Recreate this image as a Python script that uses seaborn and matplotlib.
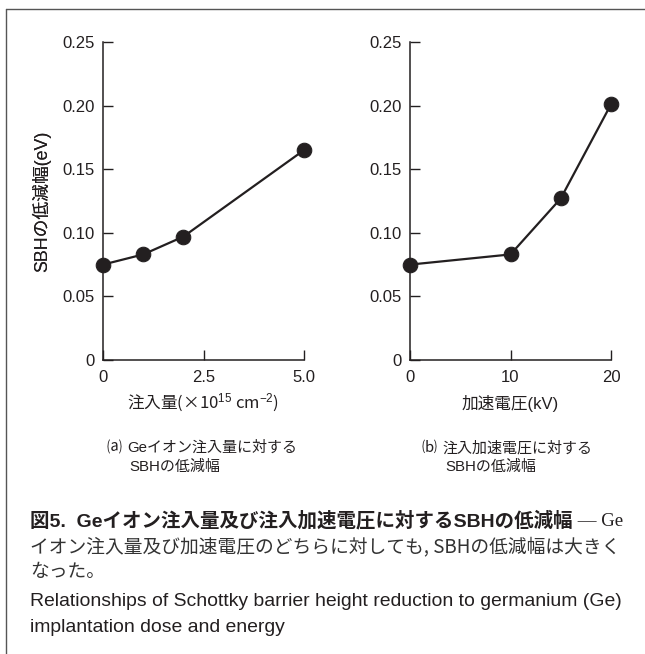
import matplotlib
matplotlib.use("Agg")
import matplotlib.pyplot as plt
import seaborn as sns
import pandas as pd
from matplotlib.lines import Line2D

# ---- data ----
dose = [0, 1, 2, 5]
dose_sbh = [0.075, 0.083, 0.097, 0.165]
energy = [0, 10, 15, 20]
energy_sbh = [0.075, 0.083, 0.127, 0.201]
yticks = [0, 0.05, 0.10, 0.15, 0.20, 0.25]
ytick_labels = ["0", "0.05", "0.10", "0.15", "0.20", "0.25"]
xticks_a = [0, 2.5, 5.0]
xtick_labels_a = ["0", "2.5", "5.0"]
xticks_b = [0, 10, 20]
xtick_labels_b = ["0", "10", "20"]
ylabel = "SBHの低減幅(eV)"
xlabel_a = "注入量(×10$^{15}$ cm$^{-2}$)"
xlabel_b = "加速電圧(kV)"
sub_a = ["Geイオン注入量に対する", "SBHの低減幅"]
sub_b = ["注入加速電圧に対する", "SBHの低減幅"]
caption_bold = "図5.  Geイオン注入量及び注入加速電圧に対するSBHの低減幅"
caption_rest1 = " — Ge"
caption_line2 = "イオン注入量及び加速電圧のどちらに対しても, SBHの低減幅は大きく"
caption_line3 = "なった。"
eng1 = "Relationships of Schottky barrier height reduction to germanium (Ge)"
eng2 = "implantation dose and energy"

sns.set_style("ticks")
FAM = ["Liberation Sans", "Noto Sans CJK JP", "DejaVu Sans"]
plt.rcParams["font.family"] = FAM
plt.rcParams["mathtext.fontset"] = "custom"
plt.rcParams["mathtext.rm"] = "Liberation Sans"
plt.rcParams["mathtext.it"] = "Liberation Sans:italic"
plt.rcParams["mathtext.bf"] = "Liberation Sans:bold"

W, H = 645, 654
fig = plt.figure(figsize=(W / 100, H / 100), dpi=100)
fig.patch.set_facecolor("white")
TXT = "#231f20"


def fx(px):
    return px / W


def fy(py):
    return 1 - py / H


def make_axes(left, right, top, bottom):
    return fig.add_axes([fx(left), fy(bottom), fx(right) - fx(left), fy(top) - fy(bottom)])


def style_axes(ax, x, y, xticks, xlabels, xmax, xlabel, xlabel_family):
    df = pd.DataFrame({"x": x, "y": y})
    sns.lineplot(data=df, x="x", y="y", ax=ax, color=TXT, linewidth=1.6,
                 marker="o", markersize=10.5, markeredgecolor=TXT,
                 markerfacecolor=TXT, clip_on=False, zorder=5)
    ax.set_xlim(0, xmax)
    ax.set_ylim(0, 0.25)
    ax.set_xticks(xticks)
    ax.set_xticklabels(xlabels)
    ax.set_yticks(yticks)
    ax.set_yticklabels(ytick_labels)
    for s in ["top", "right"]:
        ax.spines[s].set_visible(False)
    for s in ["left", "bottom"]:
        ax.spines[s].set_linewidth(1.1)
        ax.spines[s].set_color(TXT)
    ax.tick_params(axis="both", direction="in", length=7, width=1.0,
                   colors=TXT, labelsize=12, labelcolor=TXT)
    ax.tick_params(axis="y", pad=6)
    ax.tick_params(axis="x", pad=7)
    ax.set_xlabel(xlabel, fontsize=12, color=TXT, family=xlabel_family)
    ax.set_ylabel(ylabel, fontsize=12.8, color=TXT)
    ax.xaxis.set_label_coords(0.5, (360 - 403) / 318)
    ax.xaxis.label.set_va("center")
    ax.yaxis.set_label_coords((42 - (ax.get_position().x0 * W)) / 201, 0.5)
    ax.yaxis.label.set_va("center")
    ax.set_facecolor("white")
    ax.grid(False)


ax1 = make_axes(103, 304, 42, 360)
style_axes(ax1, dose, dose_sbh, xticks_a, xtick_labels_a, 5.0, xlabel_a,
           ["Noto Sans CJK JP"])
ax2 = make_axes(410, 611, 42, 360)
style_axes(ax2, energy, energy_sbh, xticks_b, xtick_labels_b, 20, xlabel_b, FAM)

# frame lines
fig.add_artist(Line2D([fx(6), fx(645)], [fy(9), fy(9)], color="#555555", lw=1.0))
fig.add_artist(Line2D([fx(6), fx(6)], [fy(9), fy(654)], color="#555555", lw=1.0))

# sub captions
SUBFS = 10.8
fig.text(fx(107), fy(448), "⒜", fontsize=SUBFS, color=TXT, va="center", ha="left")
fig.text(fx(127), fy(448), sub_a[0], fontsize=SUBFS, color=TXT, va="center", ha="left")
fig.text(fx(129), fy(467), sub_a[1], fontsize=SUBFS, color=TXT, va="center", ha="left")
fig.text(fx(422), fy(448), "⒝", fontsize=SUBFS, color=TXT, va="center", ha="left")
fig.text(fx(442), fy(448), sub_b[0], fontsize=SUBFS, color=TXT, va="center", ha="left")
fig.text(fx(445), fy(467), sub_b[1], fontsize=SUBFS, color=TXT, va="center", ha="left")

# caption
t = fig.text(fx(30), fy(521), caption_bold, fontsize=14, fontweight="bold",
             color=TXT, va="center", ha="left")
fig.canvas.draw()
bb = t.get_window_extent()
fig.text(bb.x1 / W, fy(521), caption_rest1, fontsize=13.5, color=TXT,
         va="center", ha="left", family=["Liberation Serif", "Noto Sans CJK JP"])
fig.text(fx(30), fy(547), caption_line2, fontsize=13.5, color="#333333",
         va="center", ha="left", family=["Noto Sans CJK JP", "DejaVu Sans"])
fig.text(fx(30), fy(572), caption_line3, fontsize=13.5, color="#333333",
         va="center", ha="left", family=["Noto Sans CJK JP", "DejaVu Sans"])
fig.text(fx(30), fy(602), eng1, fontsize=13.95, color=TXT, va="center", ha="left")
fig.text(fx(30), fy(628), eng2, fontsize=13.95, color=TXT, va="center", ha="left")

fig.savefig("out.png", dpi=100, facecolor="white")
